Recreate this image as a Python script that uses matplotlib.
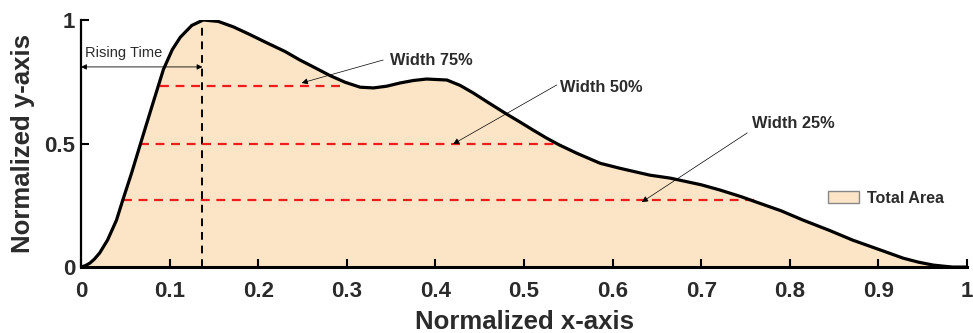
import numpy as np
import matplotlib
matplotlib.use("Agg")
import matplotlib.pyplot as plt
from matplotlib.patches import Patch

# curve (normalized x, normalized y)
curve_x = [0.0, 0.005, 0.010, 0.015, 0.021, 0.030, 0.040, 0.047, 0.057, 0.067,
           0.080, 0.093, 0.103, 0.112, 0.125, 0.138, 0.155, 0.172, 0.190, 0.210,
           0.230, 0.247, 0.265, 0.281, 0.298, 0.315, 0.330, 0.345, 0.360, 0.375,
           0.390, 0.413, 0.428, 0.443, 0.460, 0.480, 0.495, 0.510, 0.525, 0.540,
           0.560, 0.586, 0.608, 0.642, 0.665, 0.700, 0.721, 0.745, 0.763, 0.790,
           0.815, 0.845, 0.871, 0.900, 0.928, 0.945, 0.962, 0.975, 0.984, 1.0]
curve_y = [0.0, 0.006, 0.016, 0.032, 0.057, 0.110, 0.190, 0.270, 0.380, 0.498,
           0.650, 0.800, 0.880, 0.930, 0.978, 1.0, 0.994, 0.972, 0.942, 0.907,
           0.873, 0.838, 0.805, 0.775, 0.748, 0.728, 0.725, 0.732, 0.745, 0.755,
           0.761, 0.757, 0.735, 0.704, 0.665, 0.620, 0.588, 0.555, 0.523, 0.494,
           0.460, 0.420, 0.400, 0.372, 0.360, 0.333, 0.312, 0.285, 0.262, 0.228,
           0.190, 0.148, 0.109, 0.072, 0.036, 0.020, 0.008, 0.003, 0.0, 0.0]

peak_x = 0.137
rising_y = 0.81
levels = [0.733, 0.498, 0.270]
level_start = [0.089, 0.067, 0.047]
level_end = [0.296, 0.540, 0.763]
width_labels = ["Width 75%", "Width 50%", "Width 25%"]
arrow_tips = [(0.249, 0.745), (0.420, 0.498), (0.633, 0.263)]
arrow_tails = [(0.341, 0.838), (0.537, 0.737), (0.752, 0.543)]
label_pos = [(0.349, 0.834), (0.541, 0.725), (0.757, 0.583)]
x_ticks = [0, 0.1, 0.2, 0.3, 0.4, 0.5, 0.6, 0.7, 0.8, 0.9, 1]
x_tick_labels = ["0", "0.1", "0.2", "0.3", "0.4", "0.5", "0.6", "0.7", "0.8", "0.9", "1"]
y_ticks = [0, 0.5, 1]
y_tick_labels = ["0", "0.5", "1"]

fill_color = "#fce5c6"
text_color = "#2b2b2b"

plt.rcParams['font.family'] = ['Liberation Sans', 'DejaVu Sans']

fig = plt.figure(figsize=(9.73, 3.33), dpi=100)
ax = fig.add_axes([0.0833, 0.198, 0.9105, 0.742])

ax.fill_between(curve_x, 0, curve_y, color=fill_color, lw=0, zorder=1)
ax.plot(curve_x, curve_y, color="black", lw=2.3, zorder=4)

# rising time marker
ax.plot([peak_x, peak_x], [0, 1], color="black", ls=(0, (4, 3)), lw=1.4, zorder=3)
ax.annotate("", xy=(0, rising_y), xytext=(peak_x, rising_y),
            arrowprops=dict(arrowstyle="<|-|>", color="black", lw=0.6,
                            mutation_scale=8, shrinkA=0, shrinkB=0), zorder=5)
ax.text(0.0045, 0.866, "Rising Time", fontsize=10.5, va="center", ha="left",
        color=text_color)

# width levels
for lv, x0, x1, lab, tip, tail, pos in zip(levels, level_start, level_end,
                                            width_labels, arrow_tips, arrow_tails,
                                            label_pos):
    ax.plot([x0, x1], [lv, lv], color="#ee1c1c", ls=(0, (4, 3)), lw=1.6, zorder=3)
    ax.annotate("", xy=tip, xytext=tail,
                arrowprops=dict(arrowstyle="-|>", color="black", lw=0.5,
                                mutation_scale=9, shrinkA=0, shrinkB=0), zorder=5)
    ax.text(pos[0], pos[1], lab, fontsize=11.8, fontweight="bold",
            va="center", ha="left", color=text_color)

ax.set_xlim(0, 1)
ax.set_ylim(0, 1)
ax.set_xticks(x_ticks)
ax.set_xticklabels(x_tick_labels)
ax.set_yticks(y_ticks)
ax.set_yticklabels(y_tick_labels)
ax.tick_params(direction="in", length=6, width=1.5, labelsize=16)
ax.tick_params(axis="x", pad=10)
ax.tick_params(axis="y", pad=4)
for t in ax.get_xticklabels() + ax.get_yticklabels():
    t.set_fontweight("bold")
    t.set_color(text_color)

ax.spines["top"].set_visible(False)
ax.spines["right"].set_visible(False)
ax.spines["left"].set_linewidth(1.6)
ax.spines["bottom"].set_linewidth(2.2)

ax.set_xlabel("Normalized x-axis", fontsize=18.5, fontweight="bold", color=text_color,
              labelpad=6)
ax.set_ylabel("Normalized y-axis", fontsize=18.5, fontweight="bold", color=text_color,
              labelpad=7)

leg = ax.legend(handles=[Patch(facecolor=fill_color, edgecolor="#888888", lw=1.0,
                               label="Total Area")],
                loc="center left", bbox_to_anchor=(0.843, 0.279), frameon=False,
                prop=dict(size=11.6, weight="bold"), handlelength=1.95,
                handleheight=0.8, handletextpad=0.5, borderpad=0, borderaxespad=0)
for t in leg.get_texts():
    t.set_color(text_color)

fig.savefig("out.png", dpi=100)
